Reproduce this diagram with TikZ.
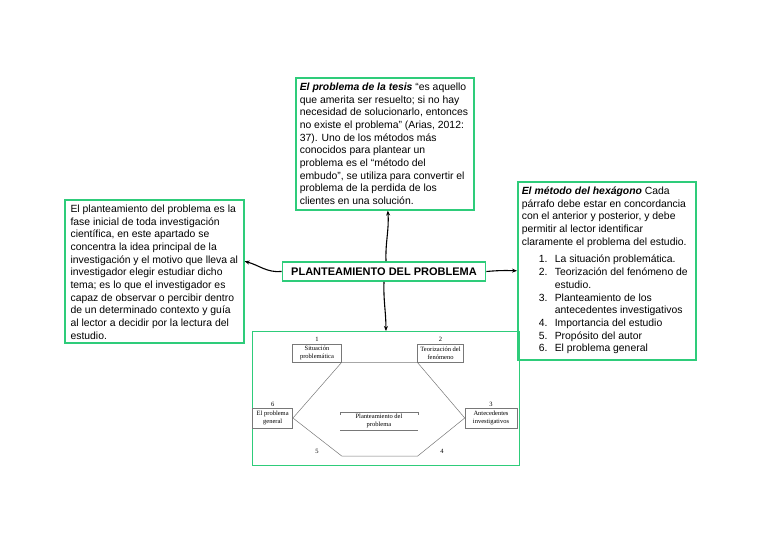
\documentclass[tikz,border=0pt]{standalone}
\usepackage{fontspec}
\setmainfont{Liberation Sans}
\newfontfamily\figfont{Liberation Serif}
\usetikzlibrary{arrows.meta, positioning}
\definecolor{mapgreen}{RGB}{46,204,122}
\definecolor{figline}{RGB}{120,120,120}
\tikzstyle{note} = [draw=mapgreen, line width=1.6pt, rectangle, anchor=north west,
    inner xsep=4pt, inner ysep=5pt, font=\fontsize{10.4}{12.7}\selectfont]
\tikzstyle{main} = [draw=mapgreen, line width=1.6pt, rectangle, inner sep=4pt,
    minimum width=203pt, minimum height=19pt, font=\fontsize{11}{13}\selectfont\bfseries]
\tikzstyle{step box} = [draw=figline, line width=0.5pt, rectangle, align=center,
    inner sep=1pt, font=\figfont\fontsize{6.5}{8}\selectfont]
\tikzstyle{num} = [inner sep=0pt, font=\figfont\fontsize{6.5}{8}\selectfont]
\tikzstyle{link} = [line width=1.1pt, -{Stealth[length=5pt,width=4pt]}]
\newcommand{\notebox}[3]{\parbox[t][#1][t]{#2}{\raggedright\hyphenpenalty=10000\exhyphenpenalty=10000 #3}}
\newcommand{\hitem}[2]{\par\noindent\hangindent=33pt\hangafter=1\hspace*{17pt}\makebox[16pt][l]{#1.}#2}

\begin{document}
\begin{tikzpicture}[x=1pt, y=-1pt]
    \useasboundingbox (0,0) rectangle (768,543);
    % central topic
    \node [main] (topic) at (384,271.5) {PLANTEAMIENTO DEL PROBLEMA};
    % notes round it
    \node [note] (thesis) at (295,77) {\notebox{122pt}{170pt}
        {\textbf{\textit{El problema de la tesis}} ``es aquello que amerita ser resuelto; si no hay necesidad de solucionarlo, entonces no existe el problema'' (Arias, 2012: 37). Uno de los métodos más conocidos para plantear un problema es el ``método del embudo'', se utiliza para convertir el problema de la perdida de los clientes en una solución.}};
    \node [note, inner xsep=5pt, minimum width=179pt] (phase) at (64,199) {\notebox{133pt}{167.5pt}
        {El planteamiento del problema es la fase inicial de toda investigación científica, en este apartado se concentra la idea principal de la investigación y el motivo que lleva al investigador elegir estudiar dicho tema; es lo que el investigador es capaz de observar o percibir dentro de un determinado contexto y guía al lector a decidir por la lectura del estudio.}\hspace{2pt}};
    \node [note] (hexa) at (517,181) {\notebox{168pt}{170pt}
        {\textbf{\textit{El método del hexágono}} Cada párrafo debe estar en concordancia con el anterior y posterior, y debe permitir al lector identificar claramente el problema del estudio.\par\vspace{5pt}
        \hitem{1}{La situación problemática.}
        \hitem{2}{Teorización del fenómeno de estudio.}
        \hitem{3}{Planteamiento de los antecedentes investigativos}
        \hitem{4}{Importancia del estudio}
        \hitem{5}{Propósito del autor}
        \hitem{6}{El problema general}}};
    \node [draw=mapgreen, line width=0.9pt, rectangle, anchor=north west,
        minimum width=267pt, minimum height=134pt, inner sep=0pt] (figure) at (252,331) {};
    % hexagon figure
    \node [step box, minimum width=49pt, minimum height=18pt] (sit) at (317,353) {Situación\\problemática};
    \node [step box, minimum width=46pt, minimum height=18pt] (teo) at (440.5,353) {Teorización del\\fenómeno};
    \node [step box, minimum width=40pt, minimum height=20pt] (gen) at (272.7,418) {El problema\\general};
    \node [step box, minimum width=52pt, minimum height=20pt] (ant) at (491,418) {Antecedentes\\investigativos};
    \node [step box, draw=none, minimum width=77pt, minimum height=18pt] (plan) at (379,421) {Planteamiento del\\problema};
    \node [num, above=2pt of sit] (n1) {1};
    \node [num, above=2pt of teo] (n2) {2};
    \node [num, above=1pt of ant] (n3) {3};
    \node [num, above=1pt of gen] (n6) {6};
    \coordinate (bl) at (341.7,456);
    \coordinate (br) at (417.7,456);
    \node [num] (n5) at (317,451) {5};
    \node [num] (n4) at (442,451) {4};
    \draw [figline, line width=0.5pt] (sit.south east) -- (teo.south west) -- (ant.west) -- (br) -- (bl) -- (gen.east) -- cycle;
    \draw [figline, line width=0.5pt] ([yshift=-3pt]plan.north west) -- (plan.north west) -- (plan.north east) -- ([yshift=-3pt]plan.north east);
    \draw [figline, line width=0.5pt] (plan.south west) -- (plan.south east);
    % connectors
    \draw [link] ([xshift=2pt]topic.north) to[out=92,in=-86] ([xshift=3pt]thesis.south);
    \draw [link] (topic.south) to[out=-92,in=90] (figure.north);
    \draw [link] (topic.west) to[out=185,in=-15] ([yshift=10pt]phase.east);
    \draw [link] (topic.east) to[out=5,in=178] (hexa.west);
\end{tikzpicture}
\end{document}
